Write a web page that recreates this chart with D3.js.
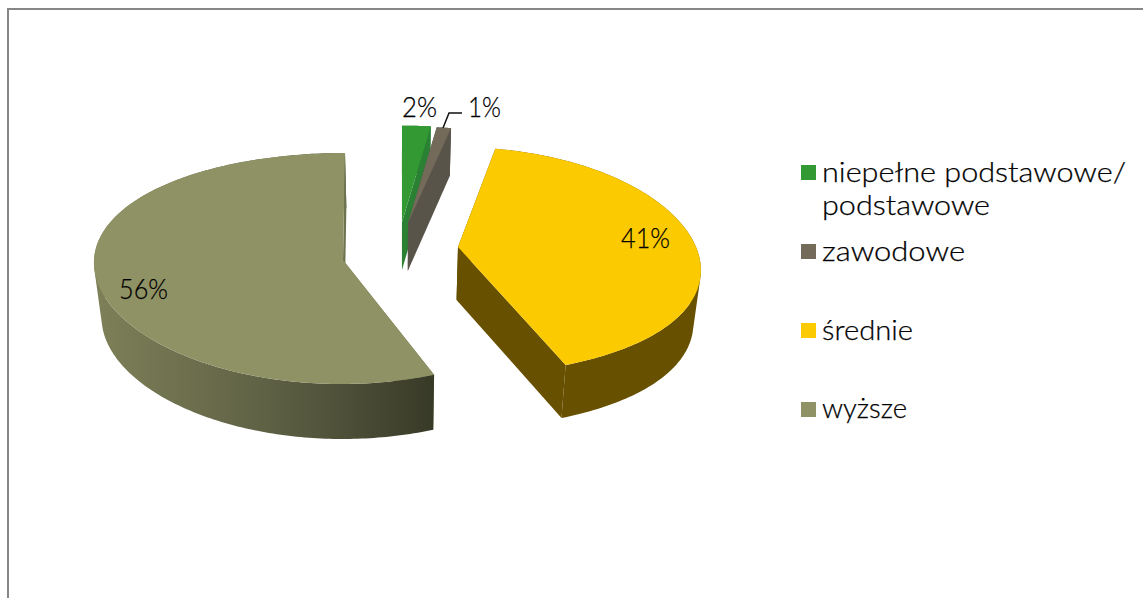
<!DOCTYPE html>
<html>
<head>
<meta charset="utf-8">
<script src="https://cdn.jsdelivr.net/npm/d3@7"></script>
<style>
  html, body { margin: 0; padding: 0; background: #fff; }
  svg { display: block; }
  text { font-family: "Lato", sans-serif; font-weight: 300; fill: #000; stroke: #000; stroke-width: 0.25px; }
</style>
</head>
<body>
<div id="chart"></div>
<script>
// education shares, in percent
var categories = ["niepełne podstawowe/ podstawowe", "zawodowe", "średnie", "wyższe"];
var shares = [2, 1, 41, 56];
var topColors = ["#339933", "#736a5a", "#fcca00", "#8f9264"];
var sideColors = ["#2a8033", "#59544a", "#675000", "#6f7350"];

var width = 1143, height = 598;

var svg = d3.select("#chart").append("svg")
  .attr("width", width)
  .attr("height", height);

var topColor = d3.scaleOrdinal().domain(categories).range(topColors);
var sideColor = d3.scaleOrdinal().domain(categories).range(sideColors);

// each exploded slice gets its own little perspective setup
var sliceShape = [
  { cx: 402, cy: 222, rx: 275, ry: 110, kx: 0.2, ky: 0.124, depth: 48, shear: 0 },
  { cx: 408, cy: 223, rx: 275, ry: 110, kx: 0.2, ky: 0.124, depth: 48, shear: 0 },
  { cx: 458, cy: 247, rx: 238, ry: 113.8, kx: 0.2, ky: 0.124, depth: 53, shear: 0 },
  { cx: 343, cy: 260, rx: 249, ry: 115.5, kx: 0.015, ky: 0.0736, depth: 55, shear: -2 }
];
var vanishX = 400, floorScale = 0.975;

var defs = svg.append("defs");
var wallGrad = defs.append("linearGradient")
  .attr("id", "wallGrad")
  .attr("gradientUnits", "userSpaceOnUse")
  .attr("x1", 100).attr("x2", 434).attr("y1", 0).attr("y2", 0);
wallGrad.append("stop").attr("offset", "0%").attr("stop-color", "#7c7f57");
wallGrad.append("stop").attr("offset", "50%").attr("stop-color", "#5f6145");
wallGrad.append("stop").attr("offset", "100%").attr("stop-color", "#383a28");

// chart frame, only top and left show in the crop
svg.append("line").attr("x1", 7).attr("x2", width).attr("y1", 9).attr("y2", 9)
  .attr("stroke", "#868686").attr("stroke-width", 2);
svg.append("line").attr("x1", 8).attr("x2", 8).attr("y1", 9).attr("y2", height)
  .attr("stroke", "#868686").attr("stroke-width", 2);

var pie = d3.pie().sort(null);
var arcs = pie(shares);
var line = d3.line();

function project(s, angle, r, down) {
  var u = Math.sin(angle) * r;
  var v = -Math.cos(angle) * r;
  var x = s.cx + s.rx * u / (1 - s.kx * v) + s.shear * v;
  var y = s.cy + s.ry * v * (1 + s.ky * v);
  if (down) {
    x = vanishX + (x - vanishX) * floorScale;
    y += s.depth;
  }
  return [x, y];
}

function rimAngles(d) {
  var n = Math.max(6, Math.ceil((d.endAngle - d.startAngle) * 60));
  return d3.range(n + 1).map(function(i) {
    return d.startAngle + (d.endAngle - d.startAngle) * i / n;
  });
}

function cutFace(s, angle) {
  return [
    project(s, angle, 0, false), project(s, angle, 1, false),
    project(s, angle, 1, true), project(s, angle, 0, true)
  ];
}

arcs.forEach(function(d, i) {
  var s = sliceShape[i];
  var name = categories[i];
  var g = svg.append("g");
  var side = sideColor(name);
  var rim = rimAngles(d);

  g.append("path").attr("d", line(cutFace(s, d.startAngle)) + "Z").attr("fill", side);

  // rim wall as quads in one path, all wound the same way so nothing cancels
  var wallPath = d3.pairs(rim).map(function(p) {
    var quad = [
      project(s, p[0], 1, false), project(s, p[1], 1, false),
      project(s, p[1], 1, true), project(s, p[0], 1, true)
    ];
    if (d3.polygonArea(quad) < 0) quad.reverse();
    return line(quad) + "Z";
  }).join("");
  g.append("path").attr("d", wallPath)
    .attr("fill", i == 3 ? "url(#wallGrad)" : side);

  g.append("path").attr("d", line(cutFace(s, d.endAngle)) + "Z").attr("fill", side);

  var face = [project(s, 0, 0, false)].concat(rim.map(function(a) { return project(s, a, 1, false); }));
  g.append("path").attr("d", line(face) + "Z").attr("fill", topColor(name));
});

// data labels
var labelSpots = [[402, 117, 35], [468, 117, 33], [621, 248, 49], [119, 299, 49]];
svg.selectAll(".pct")
  .data(shares)
  .enter()
  .append("text")
  .attr("class", "pct")
  .attr("x", function(d, i) { return labelSpots[i][0]; })
  .attr("y", function(d, i) { return labelSpots[i][1]; })
  .attr("font-size", 28)
  .attr("textLength", function(d, i) { return labelSpots[i][2]; })
  .attr("lengthAdjust", "spacingAndGlyphs")
  .text(function(d) { return d + "%"; });

// leader line for the 1% label
svg.append("path")
  .attr("d", line([[443, 128], [449, 113], [462, 113]]))
  .attr("fill", "none")
  .attr("stroke", "#111")
  .attr("stroke-width", 1.5);

// legend
var swatchTops = [165, 244, 323, 402];
var legendLines = [
  [{ t: "niepełne podstawowe/", y: 182, w: 304 }, { t: "podstawowe", y: 215, w: 168 }],
  [{ t: "zawodowe", y: 261, w: 143 }],
  [{ t: "średnie", y: 340, w: 91 }],
  [{ t: "wyższe", y: 418, w: 85 }]
];

var legend = svg.selectAll(".legend")
  .data(categories)
  .enter()
  .append("g")
  .attr("class", "legend");

legend.append("rect")
  .attr("x", 801)
  .attr("y", function(d, i) { return swatchTops[i]; })
  .attr("width", 15)
  .attr("height", 15)
  .attr("fill", function(d) { return topColor(d); });

legend.each(function(d, i) {
  d3.select(this).selectAll("text")
    .data(legendLines[i])
    .enter()
    .append("text")
    .attr("x", 822)
    .attr("y", function(l) { return l.y; })
    .attr("font-size", 28)
    .attr("textLength", function(l) { return l.w; })
    .attr("lengthAdjust", "spacingAndGlyphs")
    .text(function(l) { return l.t; });
});
</script>
</body>
</html>
